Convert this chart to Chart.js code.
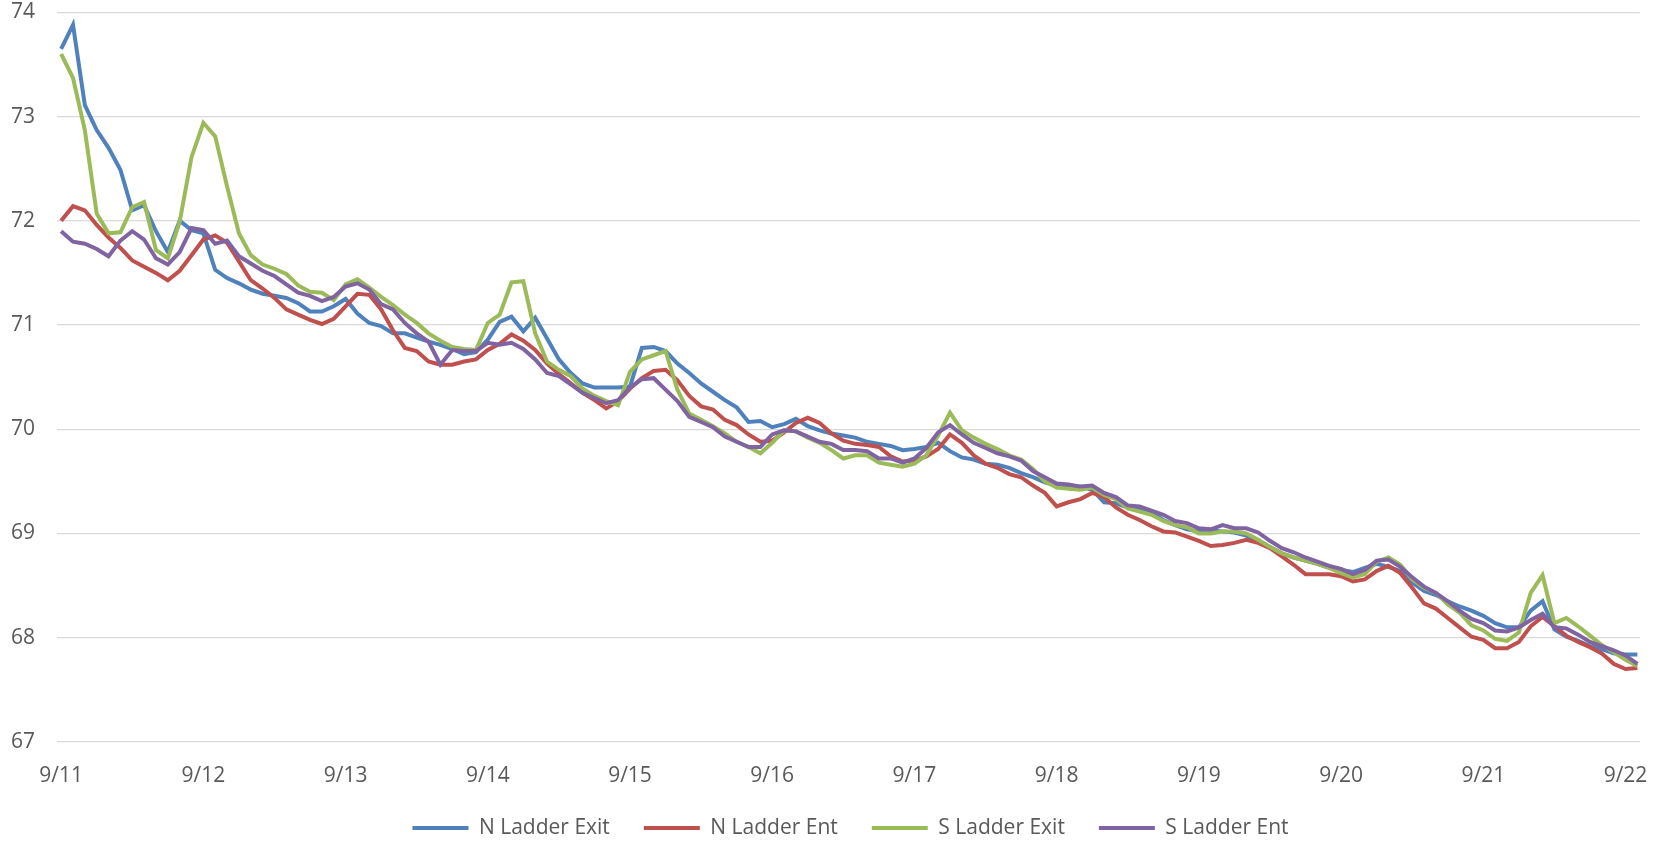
<!DOCTYPE html>
<html>
<head>
<meta charset="utf-8">
<script src="https://cdn.jsdelivr.net/npm/chart.js@4"></script>
<style>
  html, body { margin: 0; padding: 0; background: #fff; }
  #wrap { width: 1661px; height: 844px; position: relative; }
</style>
</head>
<body>
<div id="wrap"><canvas id="line-Chart"></canvas></div>
<script>
// readings every 2 hours starting 9/11 00:00
const dayLabels = ['9/11', '9/12', '9/13', '9/14', '9/15', '9/16', '9/17', '9/18', '9/19', '9/20', '9/21', '9/22'];

const nLadderExit = [
    73.65, 73.88, 73.11, 72.87, 72.70, 72.49, 72.10, 72.15, 71.90, 71.70, 72.00, 71.91, 71.88, 71.53, 71.45, 71.40, 71.34, 71.30, 71.28, 71.26, 71.21, 71.13, 71.13, 71.18,
    71.25, 71.11, 71.02, 70.99, 70.92, 70.92, 70.88, 70.84, 70.81, 70.77, 70.72, 70.74, 70.86, 71.03, 71.08, 70.94, 71.07, 70.87, 70.67, 70.54, 70.44, 70.40, 70.40, 70.40,
    70.41, 70.78, 70.79, 70.75, 70.63, 70.54, 70.44, 70.36, 70.28, 70.21, 70.07, 70.08, 70.02, 70.05, 70.10, 70.03, 69.99, 69.96, 69.94, 69.92, 69.88, 69.86, 69.84, 69.80,
    69.81, 69.83, 69.87, 69.79, 69.73, 69.71, 69.67, 69.66, 69.63, 69.58, 69.54, 69.49, 69.46, 69.46, 69.45, 69.42, 69.30, 69.29, 69.25, 69.23, 69.20, 69.13, 69.08, 69.04,
    69.02, 69.03, 69.02, 69.01, 68.98, 68.93, 68.87, 68.81, 68.77, 68.74, 68.71, 68.67, 68.65, 68.63, 68.67, 68.71, 68.68, 68.64, 68.53, 68.45, 68.41, 68.35, 68.30, 68.26,
    68.21, 68.14, 68.10, 68.10, 68.26, 68.35, 68.08, 68.01, 67.97, 67.92, 67.89, 67.85, 67.84, 67.84
];
const nLadderEnt = [
    72.00, 72.14, 72.10, 71.96, 71.84, 71.74, 71.62, 71.56, 71.50, 71.43, 71.52, 71.67, 71.82, 71.86, 71.79, 71.61, 71.43, 71.35, 71.26, 71.15, 71.10, 71.05, 71.01, 71.06,
    71.18, 71.30, 71.29, 71.15, 70.95, 70.78, 70.75, 70.65, 70.62, 70.62, 70.65, 70.67, 70.76, 70.82, 70.91, 70.85, 70.76, 70.63, 70.53, 70.44, 70.35, 70.28, 70.20, 70.27,
    70.39, 70.49, 70.56, 70.57, 70.47, 70.32, 70.22, 70.19, 70.09, 70.04, 69.95, 69.88, 69.89, 69.97, 70.06, 70.11, 70.06, 69.96, 69.89, 69.86, 69.85, 69.83, 69.74, 69.69,
    69.70, 69.74, 69.81, 69.95, 69.87, 69.75, 69.67, 69.63, 69.57, 69.54, 69.46, 69.39, 69.26, 69.30, 69.33, 69.39, 69.35, 69.25, 69.18, 69.13, 69.07, 69.02, 69.01, 68.97,
    68.93, 68.88, 68.89, 68.91, 68.94, 68.91, 68.86, 68.78, 68.70, 68.61, 68.61, 68.61, 68.59, 68.54, 68.56, 68.64, 68.69, 68.62, 68.48, 68.33, 68.28, 68.19, 68.10, 68.01,
    67.98, 67.90, 67.90, 67.96, 68.11, 68.20, 68.11, 68.02, 67.96, 67.91, 67.85, 67.75, 67.70, 67.71
];
const sLadderExit = [
    73.60, 73.37, 72.87, 72.07, 71.88, 71.89, 72.13, 72.18, 71.72, 71.64, 71.99, 72.61, 72.94, 72.81, 72.33, 71.88, 71.67, 71.58, 71.54, 71.49, 71.38, 71.32, 71.31, 71.24,
    71.39, 71.44, 71.36, 71.27, 71.19, 71.10, 71.02, 70.92, 70.85, 70.79, 70.77, 70.76, 71.02, 71.10, 71.41, 71.42, 70.92, 70.65, 70.57, 70.51, 70.39, 70.32, 70.27, 70.23,
    70.55, 70.67, 70.71, 70.75, 70.38, 70.15, 70.09, 70.03, 69.96, 69.88, 69.83, 69.77, 69.87, 69.99, 69.98, 69.92, 69.87, 69.80, 69.72, 69.75, 69.75, 69.68, 69.66, 69.64,
    69.67, 69.75, 69.94, 70.16, 69.99, 69.92, 69.86, 69.81, 69.75, 69.71, 69.62, 69.50, 69.44, 69.43, 69.42, 69.44, 69.37, 69.33, 69.24, 69.21, 69.18, 69.12, 69.08, 69.06,
    69.00, 69.00, 69.02, 69.02, 69.00, 68.94, 68.87, 68.81, 68.77, 68.74, 68.71, 68.67, 68.62, 68.58, 68.61, 68.73, 68.77, 68.70, 68.56, 68.48, 68.43, 68.32, 68.24, 68.12,
    68.07, 67.99, 67.97, 68.05, 68.43, 68.60, 68.14, 68.19, 68.11, 68.02, 67.93, 67.86, 67.79, 67.73
];
const sLadderEnt = [
    71.90, 71.80, 71.78, 71.73, 71.66, 71.81, 71.90, 71.82, 71.64, 71.58, 71.70, 71.93, 71.91, 71.78, 71.81, 71.66, 71.59, 71.52, 71.47, 71.39, 71.31, 71.28, 71.23, 71.27,
    71.37, 71.40, 71.34, 71.20, 71.15, 71.02, 70.92, 70.84, 70.62, 70.76, 70.75, 70.75, 70.83, 70.81, 70.83, 70.77, 70.67, 70.54, 70.51, 70.43, 70.35, 70.30, 70.25, 70.28,
    70.40, 70.48, 70.49, 70.38, 70.27, 70.12, 70.07, 70.02, 69.93, 69.88, 69.83, 69.83, 69.95, 69.99, 69.98, 69.93, 69.88, 69.86, 69.80, 69.80, 69.79, 69.72, 69.72, 69.68,
    69.72, 69.82, 69.97, 70.04, 69.95, 69.87, 69.82, 69.77, 69.74, 69.70, 69.60, 69.54, 69.48, 69.47, 69.45, 69.46, 69.39, 69.35, 69.27, 69.26, 69.22, 69.18, 69.12, 69.10,
    69.05, 69.04, 69.08, 69.05, 69.05, 69.01, 68.93, 68.86, 68.82, 68.77, 68.73, 68.69, 68.66, 68.61, 68.65, 68.74, 68.75, 68.68, 68.58, 68.49, 68.43, 68.35, 68.26, 68.18,
    68.14, 68.07, 68.06, 68.10, 68.17, 68.23, 68.10, 68.09, 68.03, 67.96, 67.92, 67.88, 67.83, 67.75
];

// hours since 9/11 00:00
const hours = nLadderExit.map((_, i) => i * 2);

// nudge the legend row right like the original, and let the date labels
// extend a little past the axis box so they are not clipped
const layoutTweaks = {
    id: 'layoutTweaks',
    afterLayout(chart) {
        chart.legend.left += 21;
        chart.legend.right += 21;
        chart.scales.x.bottom += 14;
    }
};

function createLineChart() {
    const ctx = document.getElementById('line-Chart').getContext('2d');

    const series = [
        { label: 'N Ladder Exit', data: nLadderExit, color: '#4F81BD', order: 3 },
        { label: 'N Ladder Ent', data: nLadderEnt, color: '#C0504D', order: 2 },
        { label: 'S Ladder Exit', data: sLadderExit, color: '#9BBB59', order: 1 },
        { label: 'S Ladder Ent', data: sLadderEnt, color: '#8064A2', order: 0 }
    ];

    const data = {
        labels: hours,
        datasets: series.map(s => ({
            label: s.label,
            data: s.data,
            borderColor: s.color,
            backgroundColor: s.color,
            borderWidth: 4,
            pointRadius: 0,
            tension: 0,
            order: s.order
        }))
    };

    const options = {
        responsive: true,
        maintainAspectRatio: false,
        animation: false,
        layout: { padding: { left: 12, right: 14, top: 0, bottom: -4.5 } },
        plugins: {
            tooltip: { enabled: false },
            legend: {
                position: 'bottom',
                labels: {
                    usePointStyle: true,
                    pointStyle: 'line',
                    pointStyleWidth: 56,
                    padding: 34,
                    color: '#595959',
                    font: { family: 'Open Sans', size: 21 },
                    sort: (a, b) => a.datasetIndex - b.datasetIndex
                }
            }
        },
        scales: {
            x: {
                type: 'linear',
                min: -0.7,
                max: 266.4,
                afterBuildTicks: axis => {
                    axis.ticks = dayLabels.map((_, i) => ({ value: i * 24 }));
                },
                afterFit: axis => { axis.height = 41.5; },
                ticks: {
                    autoSkip: false,
                    maxRotation: 0,
                    padding: 13.5,
                    color: '#595959',
                    font: { family: 'Open Sans', size: 21 },
                    callback: v => dayLabels[Math.round(v / 24)]
                },
                grid: { display: false },
                border: { display: false }
            },
            y: {
                min: 67,
                max: 74,
                afterFit: axis => {
                    axis.width = 45;
                    axis.paddingTop = 12.3;
                    axis.paddingBottom = 0;
                },
                ticks: {
                    stepSize: 1,
                    padding: 22,
                    color: '#595959',
                    font: { family: 'Open Sans', size: 21 }
                },
                grid: { color: '#d9d9d9', lineWidth: 1.3, drawTicks: false },
                border: { display: false }
            }
        }
    };

    new Chart(ctx, { type: 'line', data: data, options: options, plugins: [layoutTweaks] });
}

createLineChart();
</script>
</body>
</html>
